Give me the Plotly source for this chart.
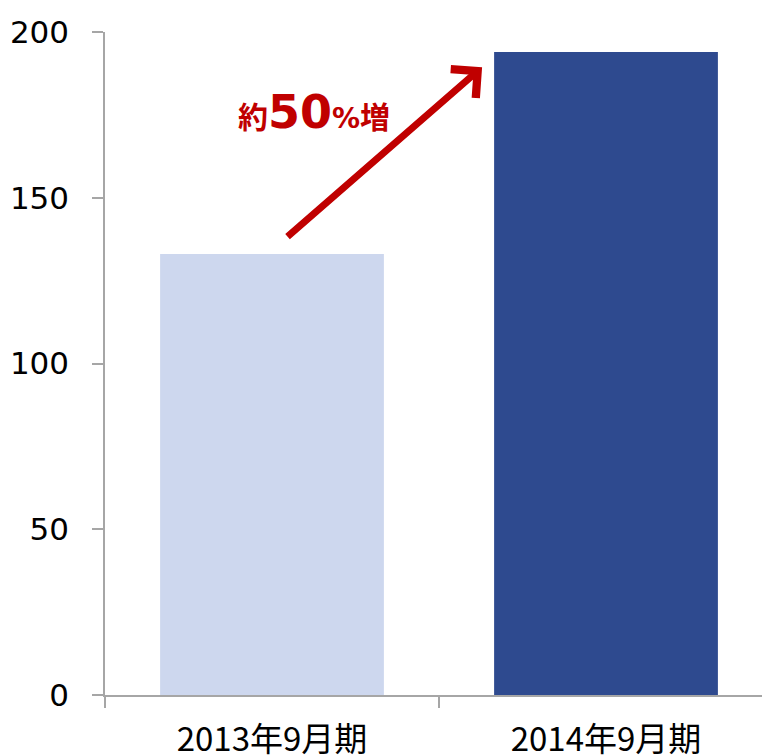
import plotly.graph_objects as go

categories = ["2013年9月期", "2014年9月期"]
values = [133, 194]
bar_colors = ["#CDD7EE", "#2E4A8F"]
y_ticks = [0, 50, 100, 150, 200]

fig = go.Figure()
fig.add_trace(go.Bar(
    x=categories, y=values, marker=dict(color=bar_colors, line=dict(width=0)),
    width=0.67, showlegend=False, hoverinfo="skip"
))

# growth arrow (category index coordinates)
fig.add_annotation(
    x=0.629, y=189.4, ax=0.042, ay=137.9,
    xref="x", yref="y", axref="x", ayref="y",
    showarrow=True, arrowhead=4, arrowsize=1.05, arrowwidth=7,
    arrowcolor="#C00000", text="", standoff=0, startstandoff=0
)
fig.add_annotation(
    x=0.125, y=176.0, xref="x", yref="y", showarrow=False,
    text=("<span style='font-family:Noto Sans CJK JP;font-size:30px;font-weight:bold'>約</span>"
          "<span style='font-family:DejaVu Sans;font-size:46px;font-weight:bold'>50</span>"
          "<span style='font-family:DejaVu Sans;font-size:28px;font-weight:bold'>%</span>"
          "<span style='font-family:Noto Sans CJK JP;font-size:30px;font-weight:bold'>増</span>"),
    font=dict(color="#C00000"), xanchor="center", yanchor="middle"
)

# page body has an 8px default margin, so the figure is offset by 8px
fig.update_layout(
    width=762, height=747,
    margin=dict(l=97, r=0, t=24, b=60, autoexpand=False),
    paper_bgcolor="white", plot_bgcolor="white",
    bargap=0.33,
)
fig.update_xaxes(
    type="category", range=[-0.5, 1.491], showgrid=False, automargin=False,
    showline=True, linecolor="#A6A6A6", linewidth=1.5,
    ticks="outside", tickson="boundaries", ticklen=11, tickcolor="#A6A6A6", tickwidth=1.5,
    tickfont=dict(family="Noto Sans CJK JP", size=33, color="black"),
    ticklabelstandoff=15,
)
fig.update_yaxes(
    range=[0, 200], tickvals=y_ticks, showgrid=False, zeroline=False, automargin=False,
    showline=True, linecolor="#A6A6A6", linewidth=1.5,
    ticks="outside", ticklen=11, tickcolor="#A6A6A6", tickwidth=1.5,
    tickfont=dict(family="DejaVu Sans", size=31, color="black"),
    ticklabelstandoff=17,
)

fig.write_html("out.html")
